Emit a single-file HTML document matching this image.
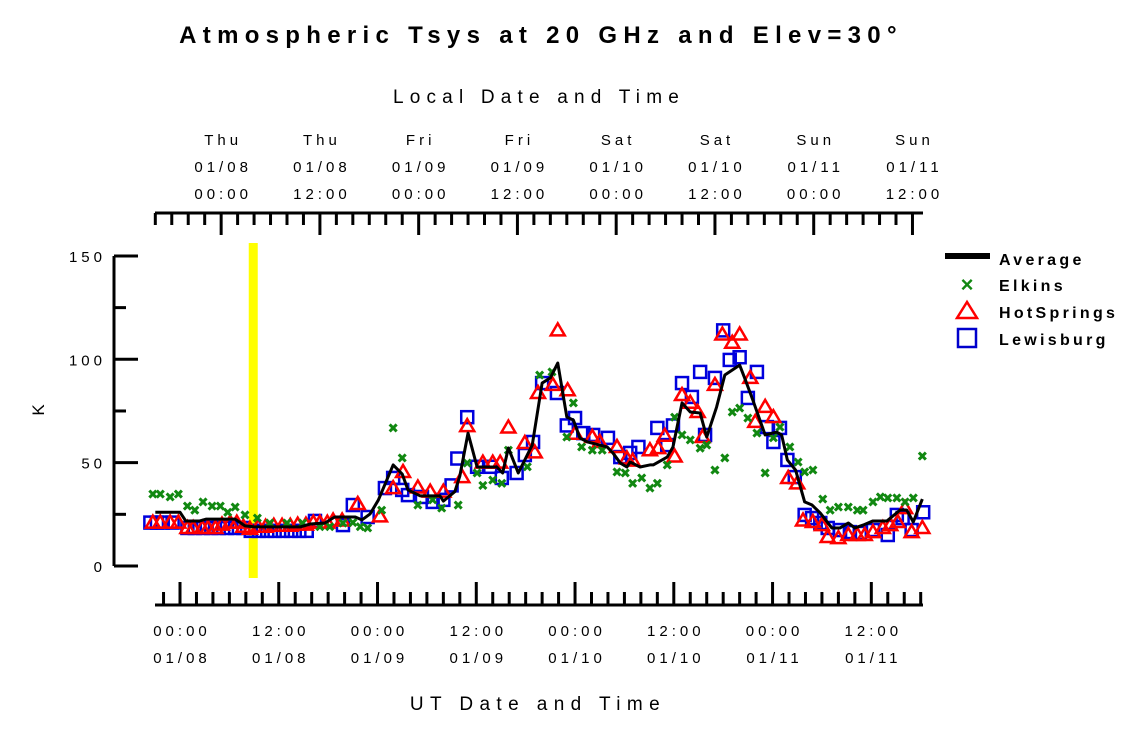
<!DOCTYPE html>
<html><head><meta charset="utf-8"><style>
body{margin:0;background:#fff;}
svg{display:block;font-family:"Liberation Sans",sans-serif;}
.lbl{font-size:15px;letter-spacing:4px;fill:#000;}
</style></head><body>
<svg id="chart" width="1125" height="731" viewBox="0 0 1125 731" xmlns="http://www.w3.org/2000/svg">
<text x="541" y="43" text-anchor="middle" font-size="24" font-weight="bold" letter-spacing="6.3">Atmospheric Tsys at 20 GHz and Elev=30°</text>
<text x="539" y="103" text-anchor="middle" font-size="19" letter-spacing="6.2">Local Date and Time</text>
<text x="538" y="710" text-anchor="middle" font-size="19" letter-spacing="6.4">UT Date and Time</text>
<text transform="translate(44,410) rotate(-90)" text-anchor="middle" font-size="17">K</text>
<g id="axes"></g><g id="marks"></g>
<g>
<rect x="945" y="253" width="45" height="6" fill="#000"/>
<text x="999" y="265" font-size="16" font-weight="bold" letter-spacing="3.3">Average</text>
<text x="967" y="292" font-size="22" font-weight="bold" fill="#118811" text-anchor="middle">×</text>
<text x="999" y="291" font-size="16" font-weight="bold" letter-spacing="3.3">Elkins</text>
<polygon points="967,302 957,318 977,318" fill="none" stroke="#f00" stroke-width="2.5"/>
<text x="999" y="318" font-size="16" font-weight="bold" letter-spacing="3.3">HotSprings</text>
<rect x="958" y="329" width="18" height="18" fill="none" stroke="#00c" stroke-width="2.5"/>
<text x="999" y="345" font-size="16" font-weight="bold" letter-spacing="3.3">Lewisburg</text>
</g>
</svg>
<script>
const yTicks=[0,25,50,75,100,125,150];
const yTickLabels=["0","","50","","100","","150"];
const utLabels=[["00:00","01/08"],["12:00","01/08"],["00:00","01/09"],["12:00","01/09"],["00:00","01/10"],["12:00","01/10"],["00:00","01/11"],["12:00","01/11"]];
const localLabels=[["Thu","01/08","00:00"],["Thu","01/08","12:00"],["Fri","01/09","00:00"],["Fri","01/09","12:00"],["Sat","01/10","00:00"],["Sat","01/10","12:00"],["Sun","01/11","00:00"],["Sun","01/11","12:00"]];
const highlightHour=8.9;
const avgT=[-3,0,0.7,2.4,3.2,6.7,7.9,9.1,14.6,15.8,17.6,18.8,20,21.3,22.1,23.1,24.1,25.9,27,27.7,29.2,31.6,32,33.4,34,35,36.1,38.5,39.2,39.9,41.1,42.8,44,45,45.9,47,47.8,48.6,49.5,51.9,52.6,53.5,54.3,54.7,55.9,57.1,57.5,59.2,59.9,61,62,63.2,64,65.2,66.2,68,68.7,69.6,71.1,72.5,73.1,73.8,74.8,75.9,76.8,77.8,79.2,80.2,81.2,82,83,84.2,85.9,87.5,88.3,89.1,90.2];
const avgV=[26,26,21.8,21.8,22.7,22.7,19.4,18.9,18.9,20.3,20.8,23.7,23.7,23.7,22.3,25.2,31.9,48.9,44.5,36.8,33.9,33.9,31.4,36,43.5,64.3,47.9,47.9,45,57.1,45,58.5,88.5,91,98.2,72.1,70.6,61.9,60,57.6,54.7,49.8,47.9,50.3,47.9,48.9,48.9,52.7,57.6,78.9,74.5,74,62.4,76.9,92.4,97.2,90,80.3,63.4,64.8,63.4,51.3,46.4,31,29.5,25.6,18.4,18.4,20.8,18.4,19.8,21.8,21.8,27.1,27.1,21.3,32.4];
const elkT=[-3.3,-2.4,-1.2,-0.2,0.9,1.8,2.8,3.9,4.9,5.8,6.7,7.9,9.4,10.9,13,14.9,17,18.2,19.8,21,21.9,22.8,24.5,25.9,27,28.9,30.7,31.8,33.8,34.9,36.1,36.8,38,39.1,39.9,42.2,43.7,45.2,47,47.8,48.8,50.1,51.3,53.1,54.1,55,56.1,57.1,58,59.2,60.1,61,62,63.2,64,65,66.2,67.1,68,69,70.1,71.1,72.1,72.9,74.1,75.1,75.9,76.9,78.1,79,80,81.2,82.3,83,84.2,85.1,86,87.1,88.1,89.1,90.2];
const elkV=[34.8,34.8,33.4,34.8,29,27,31,29,29,26,28.5,24.7,23.2,20.8,20.8,20.8,19,19,20.8,21,19,18.4,27,66.8,52.3,29.5,32,28,29.5,49.8,45,39,41.6,40,56,48,92.4,93.9,62.4,78.9,57.6,56,56,45.5,45,40,42.6,37.7,40,48.9,72,63.4,61,57,58.5,46.4,52.3,74.5,76.4,71.6,64.3,45,62,67.2,57.6,50.3,45.5,46.4,32.4,27,28.5,28.5,27,27,31,33.4,32.9,32.9,31,32.9,53.2];
const hotT=[-3.3,-2.4,-1.2,-0.2,0.9,1.6,2.7,3.4,4.3,5.1,6.1,6.9,7.7,8.5,9.5,10.4,11.4,12.4,13.4,14.3,15.3,16.2,17,17.9,18.6,19.7,21.6,24.3,25.9,27.1,28.9,30.4,32,34.3,34.9,36.8,38,38.9,39.9,41.9,43.1,43.5,45.3,45.9,47.1,48,50.1,51,53.1,54.3,55,57.1,58.1,58.9,60.1,61,62,62.9,63.5,65,65.9,67.1,68,69.3,69.9,71.1,72.1,73.9,75,75.7,76.9,78,78.7,80,81.2,82.3,83.2,84.2,85.4,86.3,87.2,88.1,88.9,90.2];
const hotV=[21,21,21,21,18.4,18.4,18.4,18.4,18.4,20,21,21,19,18,19,19,19.5,19.5,19.5,20,20,21,21,21,22,22,30,24,37.7,45.5,38,36,36,43,67.7,50,50,50,67,59.5,55,83.7,87.6,114,85,64,62.4,60,57.6,52,51,56,57,63,53,82.7,79,74.5,62.4,87.6,112,108,112,91,69.7,77,72,42.6,40,22,21.3,19.8,14,13.5,15,15,15,16.4,18.4,19.8,21.3,28,16.4,18.4];
const lewT=[-3.6,-2.8,-2.1,-0.9,0.9,1.8,2.8,3.8,4.7,5.7,6.7,7.7,8.6,9.6,10.6,11.5,12.5,13.5,14.5,15.4,16.4,19.8,21,22.8,24.9,25.9,27,27.7,29.4,30.7,32,33,33.7,34.9,36.1,37.7,39.1,40.9,41.9,42.9,44,45.8,47,48,49,50.2,52,53.5,54.7,55.7,58,59.2,59.9,61,62.2,63.2,63.8,65,66,66.8,68,69,70.1,71.3,72.1,72.9,73.8,74.7,75.9,76.8,77.8,78.7,80.2,81.4,82.6,84.2,86,87.1,87.8,88.9,90.3];
const lewV=[21,21,21,21,18.4,18.4,18.4,18.4,18.4,18.4,18.4,18.4,17,17,17,17,17,17,17,17,21.8,19.8,29.5,23.7,37.7,42.6,36.8,34.3,33.4,31,32,39,52,72,48,48,42.6,45,53.7,60,88.5,83.7,68,71.6,64.3,63.4,62,52.7,54.7,57.6,66.8,58.5,68,88.5,81.8,93.9,63.4,91,114,99.7,101,81.3,93.9,67.2,60,66.8,51.3,43,24.7,23.2,20.8,18.4,17.4,16.4,16,17.4,15,24.7,23.2,17.4,26];

const NS='http://www.w3.org/2000/svg';
function X(h){return 180+h*8.23;}
function Y(v){return 566-v*2.067;}
function mk(tag,attrs,parent){const e=document.createElementNS(NS,tag);for(const k in attrs)e.setAttribute(k,attrs[k]);parent.appendChild(e);return e;}
const axes=document.getElementById('axes'),marks=document.getElementById('marks');
const hb=mk('rect',{x:X(highlightHour)-4.5,y:243,width:9,height:335,fill:'#ffff00'},axes);


const ya=mk('line',{x1:114,y1:Y(150),x2:114,y2:Y(0),stroke:'#000','stroke-width':3},axes);


yTicks.forEach((v,i)=>{const major=yTickLabels[i]!=='';
 const t=mk('line',{x1:114,y1:Y(v),x2:major?138:126,y2:Y(v),stroke:'#000','stroke-width':3},axes);
 
 
 if(major){const l=mk('text',{x:106,y:Y(v)+6,'text-anchor':'end',class:'lbl'},axes);l.textContent=yTickLabels[i];
 
 }
});
const ba=mk('line',{x1:155,y1:605,x2:923,y2:605,stroke:'#000','stroke-width':3},axes);


for(let h=-2;h<=90;h+=2){const major=h%12===0;
 const t=mk('line',{x1:X(h),y1:605,x2:X(h),y2:major?582:592,stroke:'#000','stroke-width':3},axes);
 
 }
utLabels.forEach((a,i)=>{a.forEach((s,j)=>{const l=mk('text',{x:X(i*12)+2,y:636+j*27,'text-anchor':'middle',class:'lbl'},axes);l.textContent=s;
 
 });});
const ta=mk('line',{x1:155,y1:213,x2:923,y2:213,stroke:'#000','stroke-width':3},axes);


for(let h=-3;h<=90;h+=2){const major=(h-5)%12===0;
 const t=mk('line',{x1:X(h),y1:213,x2:X(h),y2:major?235:225,stroke:'#000','stroke-width':3},axes);
 
 }
localLabels.forEach((a,i)=>{a.forEach((s,j)=>{const l=mk('text',{x:X(5+i*12)+2,y:145+j*27,'text-anchor':'middle',class:'lbl'},axes);l.textContent=s;
 
 });});
lewT.forEach((t,i)=>{const r=mk('rect',{x:X(t)-6,y:Y(lewV[i])-6,width:12,height:12,fill:'none',stroke:'#0000dd','stroke-width':2.5},marks);
 
 });
hotT.forEach((t,i)=>{const x=X(t),y=Y(hotV[i]);const p=mk('polygon',{points:`${x},${y-7} ${x-7},${y+5} ${x+7},${y+5}`,fill:'none',stroke:'#ff0000','stroke-width':2.5},marks);
 
 });
elkT.forEach((t,i)=>{const x=X(t),y=Y(elkV[i]);const p=mk('path',{d:`M${x-3.5},${y-3.5}L${x+3.5},${y+3.5}M${x+3.5},${y-3.5}L${x-3.5},${y+3.5}`,stroke:'#118811','stroke-width':3},marks);
 
 });
const line=mk('polyline',{points:avgT.map((t,i)=>X(t)+','+Y(avgV[i])).join(' '),fill:'none',stroke:'#000','stroke-width':3,'stroke-linejoin':'round'},marks);


</script>
</body></html>
